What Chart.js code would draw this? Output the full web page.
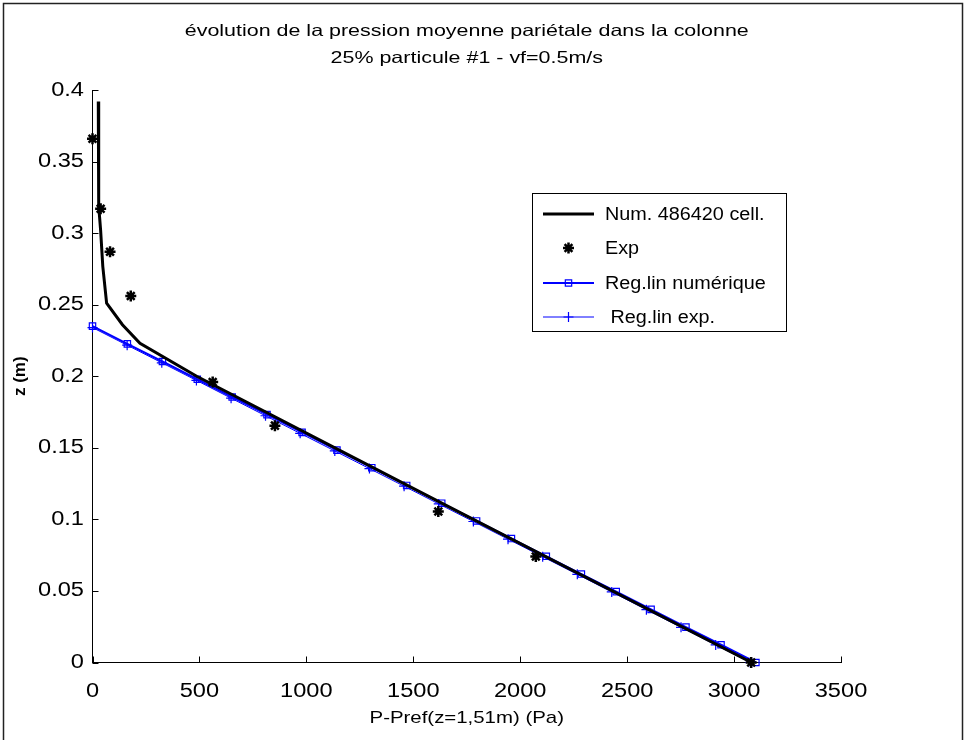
<!DOCTYPE html>
<html>
<head>
<meta charset="utf-8">
<script src="https://cdn.jsdelivr.net/npm/chart.js@4/dist/chart.umd.min.js"></script>
<style>
  html, body { margin: 0; padding: 0; background: #fff; }
  #wrap { width: 966px; height: 740px; position: relative; }
</style>
</head>
<body>
<div id="wrap"><canvas id="graf"></canvas></div>
<script>
const titre = ["évolution de la pression moyenne pariétale dans la colonne", "25% particule #1 - vf=0.5m/s"];
const titreX = "P-Pref(z=1,51m) (Pa)";
const titreY = "z (m)";

// courbe numérique (P, z)
const numP = [27, 28, 30, 38, 48, 66, 140, 222, 487, 1633, 3082];
const numZ = [0.392, 0.36, 0.319, 0.302, 0.277, 0.251, 0.236, 0.223, 0.2, 0.1113, 0];

// points expérimentaux
const expP = [0, 38, 82, 179, 562, 853, 1617, 2073, 3080];
const expZ = [0.366, 0.317, 0.287, 0.256, 0.196, 0.1655, 0.1055, 0.074, 0];

// régression linéaire numérique
const regNumP = [0, 163, 327, 490, 653, 816, 980, 1143, 1306, 1469, 1633, 1796, 1959, 2122, 2286, 2449, 2612, 2775, 2939, 3102];
const regNumZ = [0.235, 0.2226, 0.2103, 0.1979, 0.1855, 0.1732, 0.1608, 0.1484, 0.1361, 0.1237, 0.1113, 0.0989, 0.0866, 0.0742, 0.0618, 0.0495, 0.0371, 0.0247, 0.0124, 0];

// régression linéaire expérimentale
const regExpP = [0, 162, 324, 486, 648, 809, 971, 1133, 1295, 1457, 1619, 1781, 1943, 2105, 2267, 2428, 2590, 2752, 2914, 3076];
const regExpZ = [0.234, 0.2217, 0.2094, 0.1971, 0.1847, 0.1724, 0.1601, 0.1478, 0.1355, 0.1232, 0.1108, 0.0985, 0.0862, 0.0739, 0.0616, 0.0493, 0.0369, 0.0246, 0.0123, 0];

const ticksX = [0, 500, 1000, 1500, 2000, 2500, 3000, 3500];
const ticksY = [0, 0.05, 0.1, 0.15, 0.2, 0.25, 0.3, 0.35, 0.4];

const legendes = ["Num. 486420 cell.", "Exp", "Reg.lin numérique", " Reg.lin exp."];

const bleu = "#0000ff";
const police = "'Liberation Sans', Arial, sans-serif";

const paires = (xs, ys) => xs.map((x, i) => ({ x: x, y: ys[i] }));

// texte un peu étiré horizontalement, comme l'export d'origine
const texte = (c, t, x, y, etire, align) => {
  c.save();
  c.translate(x, y);
  c.scale(etire, 1);
  c.textAlign = align;
  c.fillText(t, 0, 0);
  c.restore();
};

const fmtY = (v) => String(+Number(v).toFixed(2));

// cadre, textes, ticks internes et légende
const decor = {
  id: "decor",
  beforeDraw(chart) {
    const c = chart.ctx;
    c.save();
    c.fillStyle = "#fff";
    c.fillRect(0, 0, chart.width, chart.height);
    c.strokeStyle = "#222";
    c.lineWidth = 1.5;
    c.strokeRect(3.5, 3.5, 959, 745);
    c.restore();
  },
  afterDraw(chart) {
    const c = chart.ctx;
    const sx = chart.scales.x;
    const sy = chart.scales.y;
    const a = chart.chartArea;
    c.save();
    c.fillStyle = "#000";
    c.textBaseline = "middle";

    // titre
    const cx = (a.left + a.right) / 2;
    c.font = "16.5px " + police;
    texte(c, titre[0], cx, 31, 1.3, "center");
    texte(c, titre[1], cx, 58, 1.3, "center");

    // graduations
    c.font = "20px " + police;
    ticksX.forEach((t) => {
      texte(c, String(t), sx.getPixelForValue(t), 691, 1.18, "center");
    });
    ticksY.forEach((t) => {
      texte(c, fmtY(t), 84, sy.getPixelForValue(t), 1.18, "right");
    });

    // titres d'axes
    c.font = "17px " + police;
    texte(c, titreX, cx, 718, 1.2, "center");
    c.save();
    c.translate(20, (a.top + a.bottom) / 2);
    c.rotate(-Math.PI / 2);
    c.font = "bold 17px " + police;
    c.textAlign = "center";
    c.fillText(titreY, 0, 0);
    c.restore();

    // ticks vers l'intérieur
    c.strokeStyle = "#000";
    c.lineWidth = 1;
    c.beginPath();
    ticksX.forEach((t) => {
      const px = Math.round(sx.getPixelForValue(t)) + 0.5;
      c.moveTo(px, a.bottom);
      c.lineTo(px, a.bottom - 6);
    });
    ticksY.forEach((t) => {
      const py = Math.round(sy.getPixelForValue(t)) + 0.5;
      c.moveTo(a.left, py);
      c.lineTo(a.left + 6, py);
    });
    c.stroke();

    // légende
    const bx = 532, by = 193, bw = 254, bh = 138;
    c.fillStyle = "#fff";
    c.fillRect(bx, by, bw, bh);
    c.strokeStyle = "#000";
    c.lineWidth = 1;
    c.strokeRect(bx + 0.5, by + 0.5, bw, bh);
    const lignes = [214, 248, 283, 317];
    const ds = chart.data.datasets;
    c.font = "18px " + police;
    lignes.forEach((ly, i) => {
      const d = ds[i];
      if (d.showLine) {
        c.strokeStyle = d.borderColor;
        c.lineWidth = d.borderWidth;
        c.beginPath();
        c.moveTo(543, ly);
        c.lineTo(594, ly);
        c.stroke();
      }
      if (d.pointRadius > 0) {
        c.strokeStyle = d.pointBorderColor;
        c.fillStyle = d.pointBackgroundColor;
        c.lineWidth = d.pointBorderWidth;
        Chart.helpers.drawPoint(c, {
          pointStyle: d.pointStyle,
          radius: d.pointRadius,
          rotation: 0,
          borderWidth: d.pointBorderWidth
        }, 568.5, ly);
      }
      c.fillStyle = "#000";
      texte(c, legendes[i], 605, ly + 1, 1.1, "left");
    });
    c.restore();
  }
};

new Chart(document.getElementById("graf"), {
  type: "scatter",
  data: {
    datasets: [
      {
        label: legendes[0],
        data: paires(numP, numZ),
        showLine: true,
        borderColor: "#000",
        borderWidth: 3,
        pointRadius: 0,
        pointBorderWidth: 0,
        pointBorderColor: "#000",
        pointBackgroundColor: "#000"
      },
      {
        label: legendes[1],
        data: paires(expP, expZ),
        showLine: false,
        clip: 10,
        pointStyle: "star",
        pointRadius: 5.5,
        pointHoverRadius: 5.5,
        pointBorderWidth: 2.5,
        pointBorderColor: "#000",
        pointBackgroundColor: "#000",
        borderColor: "#000"
      },
      {
        label: legendes[2],
        data: paires(regNumP, regNumZ),
        showLine: true,
        clip: 10,
        borderColor: bleu,
        borderWidth: 2,
        pointStyle: "rect",
        pointRadius: 4.5,
        pointHoverRadius: 4.5,
        pointBorderWidth: 1.2,
        pointBorderColor: bleu,
        pointBackgroundColor: "rgba(0,0,0,0)"
      },
      {
        label: legendes[3],
        data: paires(regExpP, regExpZ),
        showLine: true,
        clip: 10,
        borderColor: bleu,
        borderWidth: 1,
        pointStyle: "cross",
        pointRadius: 5,
        pointHoverRadius: 5,
        pointBorderWidth: 1.2,
        pointBorderColor: bleu,
        pointBackgroundColor: bleu
      }
    ]
  },
  options: {
    responsive: true,
    maintainAspectRatio: false,
    animation: false,
    layout: { padding: { top: 90, right: 125, left: 0, bottom: 0 } },
    plugins: {
      legend: { display: false },
      title: { display: false },
      tooltip: { enabled: false }
    },
    scales: {
      x: {
        type: "linear",
        min: 0,
        max: 3500,
        afterBuildTicks: (s) => { s.ticks = ticksX.map((v) => ({ value: v })); },
        afterFit: (s) => { s.height = 77.5; },
        grid: { display: false, drawTicks: false },
        border: { display: true, color: "#000", width: 1 },
        ticks: { display: false }
      },
      y: {
        type: "linear",
        min: 0,
        max: 0.4,
        afterBuildTicks: (s) => { s.ticks = ticksY.map((v) => ({ value: v })); },
        afterFit: (s) => { s.width = 92.5; },
        grid: { display: false, drawTicks: false },
        border: { display: true, color: "#000", width: 1 },
        ticks: { display: false }
      }
    }
  },
  plugins: [decor]
});
</script>
</body>
</html>
